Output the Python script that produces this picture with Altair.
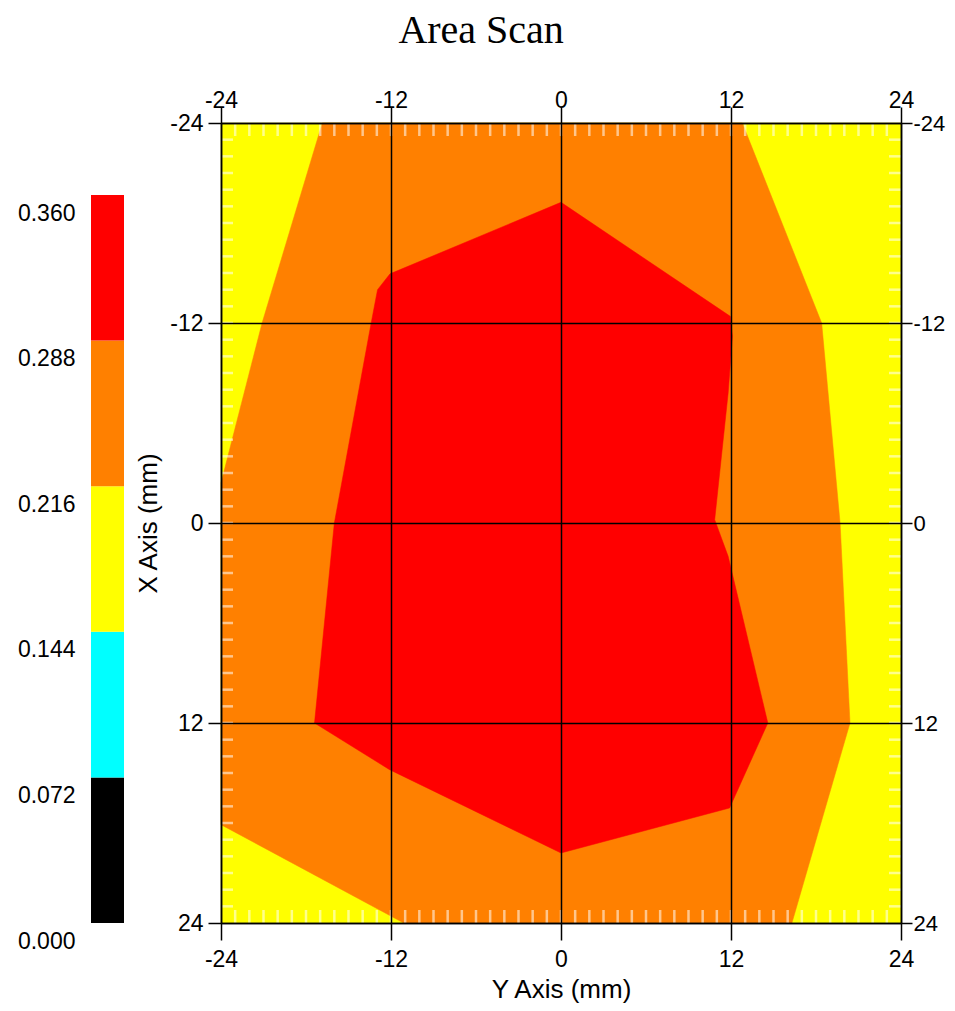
import altair as alt
import pandas as pd

# ---- contour band polygons: vertices as (Y position [mm], X position [mm]) ----
yellow_y = [-24, 24, 24, -24, -24]
yellow_x = [-24, -24, 24, 24, -24]

orange_y = [-16.85, 12.8, 18.4, 19.7, 20.4, 16.3, -11.1, -24, -24, -21.1, -16.85]
orange_x = [-24, -24, -12, 0, 12, 24, 24, 18.1, -2.4, -12, -24]

red_y = [0, 11.95, 12.1, 11.8, 10.85, 11.8, 14.6, 11.9, 0, -12.1, -17.4, -16.0, -13.4, -12.95, -12.07, 0]
red_x = [-19.24, -12.4, -11.2, -7.8, -0.2, 2.0, 12.0, 17.1, 19.8, 14.8, 12.0, 0, -12.0, -14.0, -14.95, -19.24]

# ---- axes ----
major_ticks = [-24, -12, 0, 12, 24]
minor_ticks = list(range(-23, 24))

# ---- colour bar legend ----
bin_lo = [0.000, 0.072, 0.144, 0.216, 0.288]
bin_hi = [0.072, 0.144, 0.216, 0.288, 0.360]
bin_colors = ["#000000", "#00FFFF", "#FFFF00", "#FF8000", "#FF0000"]
legend_labels = [0.000, 0.072, 0.144, 0.216, 0.288, 0.360]

YELLOW, ORANGE, RED = "#FFFF00", "#FF8000", "#FF0000"
FONT = "Liberation Sans"
LBL = 23
LEG = 23
TTL = 26
W, H = 680, 800


def poly(ys, xs):
    return pd.DataFrame({"Y": ys, "X": xs, "idx": list(range(len(ys)))})


xscale = alt.Scale(domain=[-24, 24], nice=False, zero=False)
yscale = alt.Scale(domain=[-24, 24], nice=False, zero=False, reverse=True)

common = dict(values=major_ticks, labelExpr="'' + datum.value",
              labelFont=FONT, labelColor="black",
              tickColor="black", tickWidth=1.5, domainColor="black", domainWidth=1.5,
              labelFlush=False, labelOverlap=False, zindex=1)
grid = dict(grid=True, gridColor="black", gridWidth=1.5, gridOpacity=1)

x_bottom = alt.Axis(orient="bottom", title="Y Axis (mm)", tickSize=17, labelPadding=8,
                    labelFontSize=LBL,
                    titleFont=FONT, titleFontSize=TTL, titleFontWeight="normal",
                    titleColor="black", titlePadding=5, **grid, **common)
x_top = alt.Axis(orient="top", title=None, tickSize=16, labelPadding=-5, grid=False,
                 labelFontSize=LBL, **common)
y_left = alt.Axis(orient="left", title="X Axis (mm)", tickSize=13, labelPadding=5,
                  labelFontSize=LBL,
                  titleFont=FONT, titleFontSize=TTL, titleFontWeight="normal",
                  titleColor="black", titlePadding=8, **grid, **common)
y_right = alt.Axis(orient="right", title=None, tickSize=11, labelPadding=1, grid=False,
                   labelFontSize=22, **common)

base_yellow = alt.Chart(poly(yellow_y, yellow_x)).mark_line(
    fill=YELLOW, stroke=YELLOW, strokeWidth=0.5).encode(
    x=alt.X("Y:Q", scale=xscale, axis=x_bottom),
    y=alt.Y("X:Q", scale=yscale, axis=y_left),
    order="idx:Q")

band_orange = alt.Chart(poly(orange_y, orange_x)).mark_line(
    fill=ORANGE, stroke=ORANGE, strokeWidth=0.5).encode(
    x=alt.X("Y:Q", scale=xscale, axis=x_top),
    y=alt.Y("X:Q", scale=yscale, axis=y_right),
    order="idx:Q")

band_red = alt.Chart(poly(red_y, red_x)).mark_line(
    fill=RED, stroke=RED, strokeWidth=0.5).encode(
    x=alt.X("Y:Q", scale=xscale, axis=None),
    y=alt.Y("X:Q", scale=yscale, axis=None),
    order="idx:Q")

mt = pd.DataFrame({"t": minor_ticks})
tick_style = dict(color="white", opacity=0.55, strokeWidth=2.5)
top_ticks = alt.Chart(mt).mark_rule(**tick_style).encode(
    x=alt.X("t:Q", scale=xscale, axis=None), y=alt.value(0), y2=alt.value(13))
bottom_ticks = alt.Chart(mt).mark_rule(**tick_style).encode(
    x=alt.X("t:Q", scale=xscale, axis=None), y=alt.value(H - 13), y2=alt.value(H))
left_ticks = alt.Chart(mt).mark_rule(**tick_style).encode(
    y=alt.Y("t:Q", scale=yscale, axis=None), x=alt.value(0), x2=alt.value(12))
right_ticks = alt.Chart(mt).mark_rule(**tick_style).encode(
    y=alt.Y("t:Q", scale=yscale, axis=None), x=alt.value(W - 12), x2=alt.value(W))

main = alt.layer(base_yellow, band_orange, band_red,
                 top_ticks, bottom_ticks, left_ticks, right_ticks).resolve_axis(
    x="independent", y="independent").properties(width=W, height=H)

leg_df = pd.DataFrame({"lo": bin_lo, "hi": bin_hi, "col": bin_colors})
leg_top = 0.36 * 800 / 728
legend = alt.Chart(leg_df).mark_rect().encode(
    y=alt.Y("lo:Q", scale=alt.Scale(domain=[0, leg_top], nice=False, zero=False),
            axis=alt.Axis(values=legend_labels, format=".3f", orient="left", ticks=False,
                          tickSize=0, domain=False, grid=False, labelOffset=18,
                          labelPadding=16, labelFont=FONT, labelFontSize=LEG,
                          labelColor="black", labelFlush=False, labelOverlap=False,
                          title=None)),
    y2="hi:Q",
    x=alt.value(0), x2=alt.value(33),
    color=alt.Color("col:N", scale=None),
).properties(width=33, height=H)

chart = alt.hconcat(legend, main, spacing=97, bounds="flush").properties(
    title=alt.Title("Area Scan", font="Liberation Serif", fontSize=40, fontWeight="normal",
                    color="black", anchor="middle", offset=38),
    padding={"left": 8, "top": 2, "right": 0, "bottom": 0},
).configure_view(stroke="transparent")

chart.save("out.html", embed_options={"renderer": "svg", "actions": False})
